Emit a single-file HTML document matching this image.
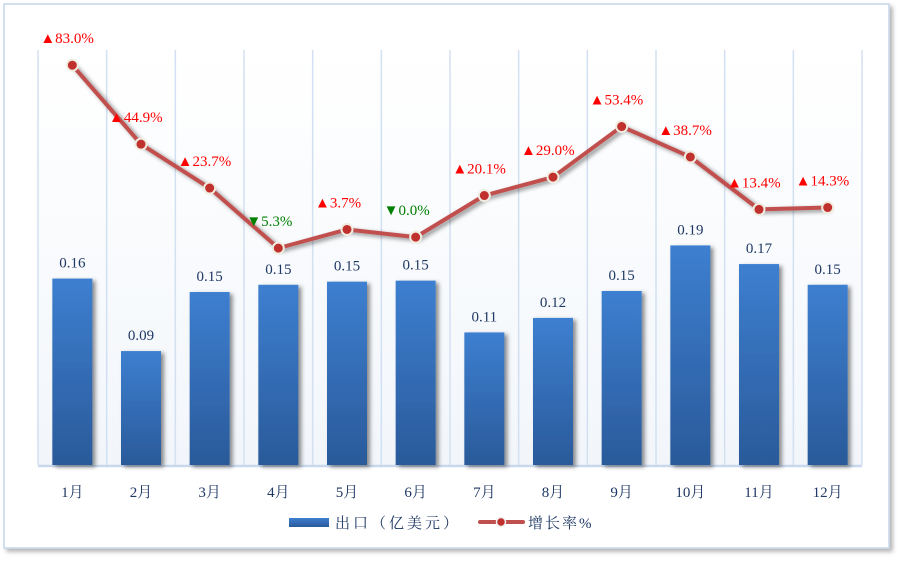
<!DOCTYPE html>
<html><head><meta charset="utf-8">
<style>
html,body{margin:0;padding:0;background:#fff;width:903px;height:562px;overflow:hidden}
svg text{font-family:"Liberation Serif","Noto Serif CJK SC",serif}
</style></head>
<body>
<svg id="chart" width="903" height="562" xmlns="http://www.w3.org/2000/svg">
<defs>
<linearGradient id="barg" x1="0" y1="0" x2="0" y2="1"><stop offset="0" stop-color="#3d7fd0"/><stop offset="1" stop-color="#2a5a9a"/></linearGradient>
<linearGradient id="bgg" x1="0" y1="0" x2="0" y2="1"><stop offset="0" stop-color="#ffffff"/><stop offset="1" stop-color="#f2f6fb"/></linearGradient>
<filter id="sh" x="-30%" y="-10%" width="160%" height="130%"><feDropShadow dx="3" dy="2" stdDeviation="2" flood-color="#000" flood-opacity="0.45"/></filter>
<filter id="fsh" x="-5%" y="-5%" width="110%" height="110%"><feDropShadow dx="3" dy="3" stdDeviation="2" flood-color="#000" flood-opacity="0.3"/></filter>
</defs>
<rect x="4" y="4" width="885" height="544" fill="#fff" stroke="#c5d6ea" stroke-width="1.5" filter="url(#fsh)"/>
<rect x="38" y="50" width="824" height="415" fill="url(#bgg)"/>
<g id="grid"></g>
<g id="bars"></g>
<g id="line"></g>
<g id="labels"></g>
<g>
<rect x="289" y="518" width="40" height="9" fill="url(#barg)"/>
<text x="335" y="528" font-size="15" fill="#1f3864" letter-spacing="3">出口（亿美元）</text>
<line x1="480" y1="522" x2="523" y2="522" stroke="#c0504d" stroke-width="4" stroke-linecap="round"/>
<circle cx="501" cy="522" r="4.5" fill="#c0302d" stroke="#eee" stroke-width="1.5"/>
<text x="528" y="528" font-size="15" fill="#1f3864" letter-spacing="2">增长率%</text>
</g>
</svg>
<script>
const months=["1月","2月","3月","4月","5月","6月","7月","8月","9月","10月","11月","12月"];
const exportValues=[0.160,0.090,0.147,0.154,0.157,0.158,0.108,0.122,0.148,0.192,0.174,0.154];
const exportLabels=["0.16","0.09","0.15","0.15","0.15","0.15","0.11","0.12","0.15","0.19","0.17","0.15"];
const growthValues=[83.0,44.9,23.7,-5.3,3.7,0.0,20.1,29.0,53.4,38.7,13.4,14.3];
const growthLabels=["83.0%","44.9%","23.7%","5.3%","3.7%","0.0%","20.1%","29.0%","53.4%","38.7%","13.4%","14.3%"];
const growthUp=[true,true,true,false,true,false,true,true,true,true,true,true];

const NS="http://www.w3.org/2000/svg";
const X0=38,X1=862,YT=30,YB=465;
const step=(X1-X0)/months.length;
const xc=i=>X0+step*(i+0.5);
const yBar=v=>YB-(v-(-0.02))/(0.40-(-0.02))*(YB-YT);
const yLine=v=>YB-(v-(-110))/(100-(-110))*(YB-YT);
function mk(tag,attrs,parent){const e=document.createElementNS(NS,tag);for(const k in attrs)e.setAttribute(k,attrs[k]);parent.appendChild(e);return e;}
const grid=document.getElementById('grid'),bars=document.getElementById('bars'),line=document.getElementById('line'),labels=document.getElementById('labels');
for(let i=0;i<=months.length;i++){
  const g=mk('line',{x1:X0+step*i,x2:X0+step*i,y1:50,y2:YB,stroke:'#d3e0f1','stroke-width':1.5},grid);
  
  
}
const ax=mk('line',{x1:X0,x2:X1,y1:YB+1,y2:YB+1,stroke:'#c9d8ec','stroke-width':2.5},grid);


months.forEach((m,i)=>{
  const y=yBar(exportValues[i]);
  const b=mk('rect',{x:xc(i)-20,y:y,width:40,height:YB-y,fill:'url(#barg)',filter:'url(#sh)'},bars);
  
  
  const t=mk('text',{x:xc(i),y:y-11,'text-anchor':'middle','font-size':15,fill:'#1f3864'},labels);
  t.textContent=exportLabels[i];
  
  
  const ml=mk('text',{x:xc(i),y:497,'text-anchor':'middle','font-size':15,fill:'#1f3864'},labels);
  ml.textContent=m;
  
  
});
const pts=growthValues.map((v,i)=>xc(i)+','+yLine(v)).join(' ');
const pl=mk('polyline',{points:pts,fill:'none',stroke:'#c0504d','stroke-width':4,'stroke-linejoin':'round',filter:'url(#sh)'},line);


growthValues.forEach((v,i)=>{
  const y=yLine(v);
  const c=mk('circle',{cx:xc(i),cy:y,r:5.5,fill:'#c0302d',stroke:'#f0ece0','stroke-width':2},line);
  
  
  const up=growthUp[i];
  const t=mk('text',{x:xc(i)-32,y:y-22,'font-size':15,fill:up?'#ff0000':'#008000'},labels);
  t.textContent=(up?'▲':'▼')+growthLabels[i];
  
  
});
</script>
</body></html>
